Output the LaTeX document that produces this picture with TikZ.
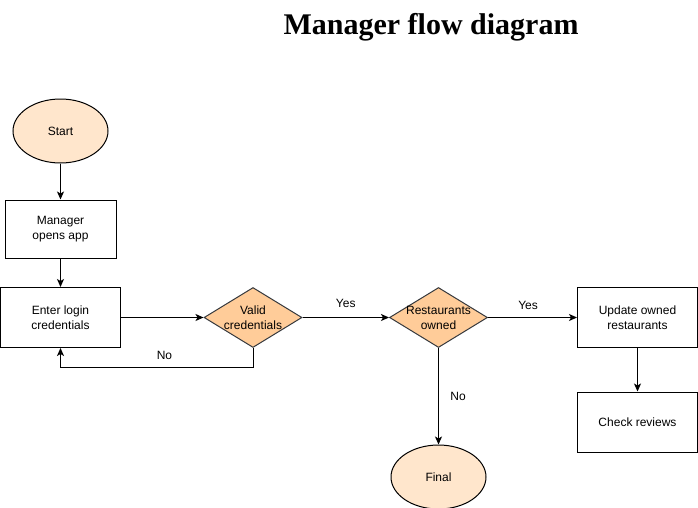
\documentclass[tikz,border=0pt]{standalone}
\usepackage{fontspec}
\setmainfont{Liberation Sans}
\newfontfamily\titlefont{Liberation Serif}
\usetikzlibrary{shapes.geometric,arrows.meta}
\definecolor{termfill}{HTML}{FFE6CC}
\definecolor{decfill}{HTML}{FFCC99}
\definecolor{decline}{HTML}{36393D}
\tikzset{
  every node/.style={font=\fontsize{12}{15}\selectfont},
  term/.style={ellipse,draw,fill=termfill,minimum width=95pt,minimum height=64pt,inner sep=0pt},
  proc/.style={rectangle,draw,minimum width=120pt,minimum height=60pt,align=center},
  dec/.style={diamond,draw=decline,fill=decfill,minimum width=98pt,minimum height=60pt,inner sep=0pt},
  flow/.style={-{Stealth[length=8pt,width=7pt,inset=2pt]}}
}
\begin{document}
\begin{tikzpicture}[x=1pt,y=-1pt,line width=1pt]
\useasboundingbox (0,0) rectangle (698,507);
\node[font=\titlefont\bfseries\fontsize{30}{36}\selectfont] (title) at (431,27) {Manager flow diagram};
\node[term] (start) at (60.5,131) {Start};
\node[proc,minimum width=111pt,minimum height=58pt] (open) at (60.5,229) {Manager\\opens app};
\node[proc] (login) at (60.5,317.5) {Enter login\\credentials};
\node[dec,label={[align=center]center:Valid\\credentials}] (valid) at (253,317.5) {};
\node[dec,label={[align=center]center:Restaurants\\owned}] (owned) at (438.5,317.5) {};
\node[proc] (update) at (637.5,317.5) {Update owned\\restaurants};
\node[proc] (reviews) at (637.5,422) {Check reviews};
\node[term] (final) at (438.5,477) {Final};
\draw[flow] (start) -- (open);
\draw[flow] (open) -- (login);
\draw[flow] (login) -- (valid);
\draw[flow] (valid.south) -- ++(0,19) -| (login.south) node[pos=0.23,above=4pt] {No};
\draw[flow] (valid) -- (owned) node[midway,above=6pt] {Yes};
\draw[flow] (owned) -- (update) node[pos=0.45,above=4pt] {Yes};
\draw[flow] (owned) -- (final) node[midway,right=8pt] {No};
\draw[flow] (update) -- (reviews);
\end{tikzpicture}
\end{document}
